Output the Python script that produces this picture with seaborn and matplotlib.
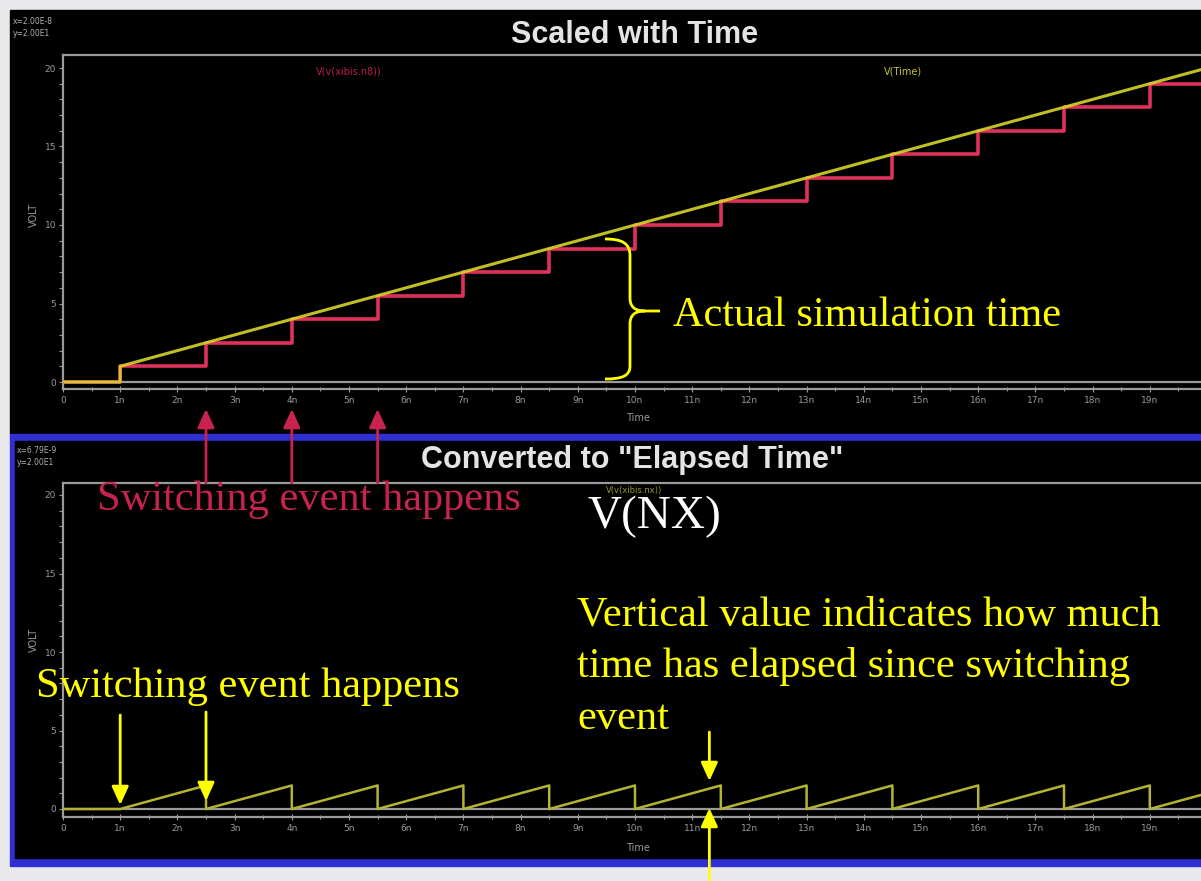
import matplotlib
matplotlib.use("Agg")
import matplotlib.pyplot as plt
import seaborn as sns
from matplotlib.patches import Rectangle, PathPatch, FancyArrowPatch
from matplotlib.path import Path
from matplotlib.ticker import MultipleLocator

# Switching instants (ns) and the simulation time sampled/held at each one (V)
switch_ns = [1, 2.5, 4, 5.5, 7, 8.5, 10, 11.5, 13, 14.5, 16, 17.5, 19]
held_volt = [1, 2.5, 4, 5.5, 7, 8.5, 10, 11.5, 13, 14.5, 16, 17.5, 19]

# V(Time): zero until the first event, then follows simulation time
vtime_ns = [0, 1, 1, 20]
vtime_volt = [0, 0, 1, 20]

# V(NX): time elapsed since the most recent switching event
nx_ns = [0, 1, 2.5, 2.5, 4, 4, 5.5, 5.5, 7, 7, 8.5, 8.5, 10, 10,
         11.5, 11.5, 13, 13, 14.5, 14.5, 16, 16, 17.5, 17.5, 19, 19, 20]
nx_volt = [0, 0, 1.5, 0, 1.5, 0, 1.5, 0, 1.5, 0, 1.5, 0, 1.5, 0,
           1.5, 0, 1.5, 0, 1.5, 0, 1.5, 0, 1.5, 0, 1.5, 0, 1.0]

x_ticks = list(range(0, 20))
x_tick_labels = ["0"] + [f"{i}n" for i in range(1, 20)]
y_ticks = [0, 5, 10, 15, 20]
y_tick_labels = ["0", "5", "10", "15", "20"]

W, H = 1201, 881
GRAY = "#9a9a9a"
RED = "#e0305c"
YEL = "#d6d62a"
NOTE_RED = "#c8234e"
NOTE_YEL = "#ffff00"
SERIF = ["Liberation Serif", "DejaVu Serif"]
SANS = ["Liberation Sans", "DejaVu Sans"]

sns.set_theme(style="dark", rc={"axes.facecolor": "black", "axes.grid": False})
plt.rcParams["font.family"] = ["DejaVu Sans"]

fig = plt.figure(figsize=(W / 100, H / 100), dpi=100, facecolor="#e9e9ec")


def fx(px):
    return px / W


def fy(py):
    return 1 - py / H


def rect(x0, y0, x1, y1, color):
    fig.patches.append(Rectangle((fx(x0), fy(y1)), fx(x1) - fx(x0), (y1 - y0) / H,
                                 transform=fig.transFigure, color=color, zorder=-2))


# window frames
rect(10, 10, W, 434, "black")
rect(10, 434, W, 866, "#2f2fd2")
rect(15, 441, W, 858, "black")


def make_axes(top_px, bottom_px, zero_px, twenty_px):
    ax = fig.add_axes([fx(63), fy(bottom_px), fx(W) - fx(63), (bottom_px - top_px) / H])
    ax.set_facecolor("none")
    ppv = (zero_px - twenty_px) / 20.0
    ax.set_ylim(-(bottom_px - zero_px) / ppv, 20 + (twenty_px - top_px) / ppv)
    ax.set_xlim(0, (W - 63) / 57.2)
    for side in ("left", "top", "bottom"):
        ax.spines[side].set_color(GRAY)
        ax.spines[side].set_linewidth(1.6)
    ax.spines["right"].set_visible(False)
    ax.axhline(0, color=GRAY, lw=1.6, zorder=1)
    ax.set_xticks(x_ticks)
    ax.set_xticklabels(x_tick_labels)
    ax.xaxis.set_minor_locator(MultipleLocator(0.5))
    ax.set_yticks(y_ticks)
    ax.set_yticklabels(y_tick_labels)
    ax.yaxis.set_minor_locator(MultipleLocator(1))
    ax.tick_params(axis="x", which="both", direction="inout", colors=GRAY,
                   labelsize=6.5, length=4, width=0.8, pad=3, bottom=True)
    ax.tick_params(axis="x", which="minor", length=3)
    ax.tick_params(axis="y", which="both", direction="out", colors=GRAY,
                   labelsize=6.5, length=3, width=0.8, pad=2, left=True)
    return ax


ax_top = make_axes(55, 389, 382, 68)
ax_bot = make_axes(483, 817, 809, 495)

# upper plot: held sample (staircase) and simulation time
sns.lineplot(x=[0] + switch_ns + [20], y=[0] + held_volt + [19], ax=ax_top,
             color=RED, lw=2.6, drawstyle="steps-post", estimator=None, sort=False, zorder=3)
sns.lineplot(x=vtime_ns, y=vtime_volt, ax=ax_top, color=YEL, lw=2.2, alpha=0.9,
             estimator=None, sort=False, zorder=4)

# lower plot: elapsed time sawtooth
sns.lineplot(x=nx_ns, y=nx_volt, ax=ax_bot, color="#b4b434", lw=1.8,
             estimator=None, sort=False, zorder=3)

for ax in (ax_top, ax_bot):
    ax.set_xlabel("")
    ax.set_ylabel("")

# window titles and axis captions
fig.text(fx(635), fy(43), "Scaled with Time", ha="center", va="baseline", fontsize=22,
         fontweight="bold", color="#e4e4e4", family=SANS)
fig.text(fx(632), fy(468), 'Converted to "Elapsed Time"', ha="center", va="baseline",
         fontsize=22, fontweight="bold", color="#e4e4e4", family=SANS)
for (x0, ytop), lines in (((13, 21), ("x=2.00E-8", "y=2.00E1")),
                          ((17, 451), ("x=6.79E-9", "y=2.00E1"))):
    for i, s in enumerate(lines):
        fig.text(fx(x0), fy(ytop + 12 * i), s, ha="left", va="center",
                 fontsize=5.5, color="#b0b0b0")
for yc in (418, 848):
    fig.text(fx(638), fy(yc), "Time", ha="center", va="center", fontsize=7, color=GRAY)
for yc in (215, 640):
    fig.text(fx(34), fy(yc), "VOLT", ha="center", va="center", rotation=90, fontsize=7, color=GRAY)

# trace names
fig.text(fx(349), fy(72), "V(v(xibis.n8))", ha="center", va="center", fontsize=7, color="#b8204a")
fig.text(fx(903), fy(72), "V(Time)", ha="center", va="center", fontsize=7, color="#c4c430")
fig.text(fx(634), fy(490), "V(v(xibis.nx))", ha="center", va="center", fontsize=6, color="#9a9a20")

# overlay notes
fig.text(fx(673), fy(326), "Actual simulation time", ha="left", va="baseline",
         fontsize=30.5, color=NOTE_YEL, family=SERIF)
fig.text(fx(97), fy(510), "Switching event happens", ha="left", va="baseline",
         fontsize=30.5, color=NOTE_RED, family=SERIF)
fig.text(fx(588), fy(528), "V(NX)", ha="left", va="baseline",
         fontsize=34, color="white", family=SERIF)
for i, s in enumerate(("Vertical value indicates how much", "time has elapsed since switching", "event")):
    fig.text(fx(577), fy(625 + 52 * i), s, ha="left", va="baseline",
             fontsize=30.5, color=NOTE_YEL, family=SERIF)
fig.text(fx(36), fy(697), "Switching event happens", ha="left", va="baseline",
         fontsize=30.5, color=NOTE_YEL, family=SERIF)

# curly brace spanning the held value up to simulation time
brace_pts = [(605, 239), (622, 239), (630, 243), (630, 256),
             (630, 298),
             (630, 306), (634, 311), (645, 311),
             (660, 311), (645, 311),
             (634, 311), (630, 316), (630, 324),
             (630, 366),
             (630, 376), (622, 379), (605, 379)]
codes = [Path.MOVETO, Path.CURVE4, Path.CURVE4, Path.CURVE4,
         Path.LINETO,
         Path.CURVE4, Path.CURVE4, Path.CURVE4,
         Path.LINETO, Path.MOVETO,
         Path.CURVE4, Path.CURVE4, Path.CURVE4,
         Path.LINETO,
         Path.CURVE4, Path.CURVE4, Path.CURVE4]
brace = Path([(fx(x), fy(y)) for x, y in brace_pts], codes)
fig.patches.append(PathPatch(brace, transform=fig.transFigure, fill=False,
                             edgecolor=NOTE_YEL, lw=2, zorder=5))


def arrow(ax, t, y_tail, y_head, color):
    xpx = ax.transData.transform((t, 0))[0]
    fig.patches.append(FancyArrowPatch((fx(xpx), fy(y_tail)), (fx(xpx), fy(y_head)),
                                       transform=fig.transFigure,
                                       arrowstyle="-|>,head_length=0.7,head_width=0.32",
                                       mutation_scale=16, lw=2, color=color,
                                       shrinkA=0, shrinkB=0, zorder=6))


for t in switch_ns[1:4]:
    arrow(ax_top, t, 483, 409, NOTE_RED)
arrow(ax_bot, switch_ns[0], 715, 805, NOTE_YEL)
arrow(ax_bot, switch_ns[1], 712, 801, NOTE_YEL)
arrow(ax_bot, 11.3, 732, 781, NOTE_YEL)
arrow(ax_bot, 11.3, 890, 808, NOTE_YEL)

fig.savefig("out.png", dpi=100, facecolor=fig.get_facecolor())
